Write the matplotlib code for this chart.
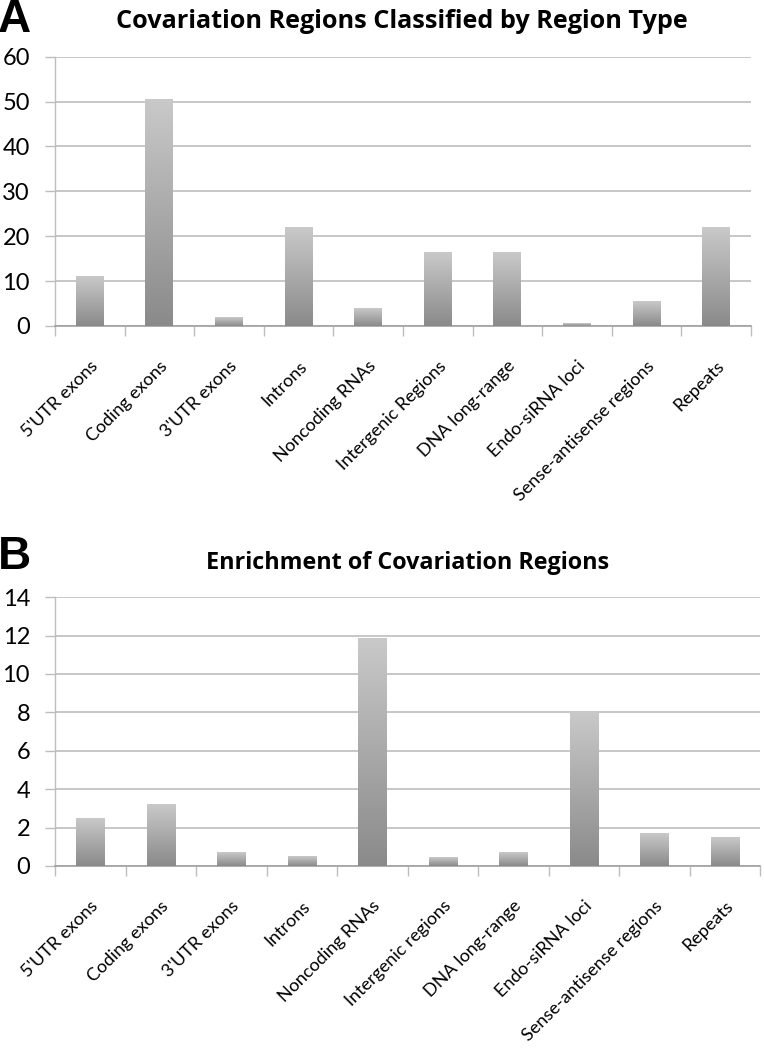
import matplotlib
matplotlib.use("Agg")
import matplotlib.pyplot as plt
import numpy as np
from matplotlib.colors import LinearSegmentedColormap

# ---- data ----
categories_a = ["5'UTR exons", "Coding exons", "3'UTR exons", "Introns", "Noncoding RNAs",
                "Intergenic Regions", "DNA long-range", "Endo-siRNA loci",
                "Sense-antisense regions", "Repeats"]
values_a = [11.1, 50.5, 2.0, 21.9, 4.0, 16.4, 16.4, 0.45, 5.35, 21.9]
yticks_a = [0, 10, 20, 30, 40, 50, 60]
title_a = "Covariation Regions Classified by Region Type"

categories_b = ["5'UTR exons", "Coding exons", "3'UTR exons", "Introns", "Noncoding RNAs",
                "Intergenic regions", "DNA long-range", "Endo-siRNA loci",
                "Sense-antisense regions", "Repeats"]
values_b = [2.5, 3.2, 0.72, 0.47, 11.85, 0.43, 0.69, 8.0, 1.7, 1.51]
yticks_b = [0, 2, 4, 6, 8, 10, 12, 14]
title_b = "Enrichment of Covariation Regions"

plt.rcParams['font.family'] = ['Lato', 'DejaVu Sans']

W, H = 764, 1050
fig = plt.figure(figsize=(W / 100, H / 100), dpi=100)

grad_cmap = LinearSegmentedColormap.from_list("g", ["#8a8a8a", "#c9c9c9"])
grad = np.linspace(0, 1, 256).reshape(-1, 1)
GRID = "#bdbdbd"


def panel(rect, cats, vals, yticks, title, title_size, letter, title_xy, letter_xy):
    ax = fig.add_axes(rect)
    x = np.arange(len(cats))
    bars = ax.bar(x, vals, width=0.4, color="#a8a8a8", linewidth=0, zorder=2)
    for b in bars:
        x0, w, h = b.get_x(), b.get_width(), b.get_height()
        ax.imshow(grad, extent=(x0, x0 + w, 0, h), origin="lower", aspect="auto",
                  cmap=grad_cmap, zorder=3, interpolation="bilinear")
    ax.set_xlim(-0.5, len(cats) - 0.5)
    ax.set_ylim(yticks[0], yticks[-1])
    ax.set_yticks(yticks)
    ax.set_yticklabels([str(t) for t in yticks], fontsize=17)
    ax.yaxis.grid(True, color=GRID, linewidth=1.2, zorder=0)
    ax.set_axisbelow(True)
    ax.set_xticks(np.arange(-0.5, len(cats)), minor=False)
    ax.set_xticklabels([])
    ax.set_xticks(x, minor=True)
    ax.set_xticklabels(cats, minor=True, rotation=45, ha="right",
                       rotation_mode="anchor", fontsize=13)
    ax.tick_params(axis="x", which="minor", length=0, pad=23)
    ax.tick_params(axis="x", which="major", length=7, color=GRID, width=1.0)
    ax.tick_params(axis="y", length=7, color=GRID, width=1.0, pad=11)
    for s in ["top", "right"]:
        ax.spines[s].set_visible(False)
    ax.spines["left"].set_color(GRID)
    ax.spines["bottom"].set_color("#a0a0a0")
    ax.spines["left"].set_linewidth(1.0)
    ax.spines["bottom"].set_linewidth(1.2)
    fig.text(title_xy[0] / W, 1 - title_xy[1] / H, title, ha="center", va="center",
             fontsize=title_size, fontweight="bold", family="Open Sans")
    fig.text(letter_xy[0] / W, 1 - letter_xy[1] / H, letter, ha="left", va="center",
             fontsize=33, fontweight="bold", family="Liberation Sans")
    return ax


panel([55 / W, 1 - 326 / H, 696 / W, 269.3 / H], categories_a, values_a, yticks_a,
      title_a, 18.2, "A", (402, 21), (-2, 20))
panel([55 / W, 1 - 866 / H, 705 / W, 268.8 / H], categories_b, values_b, yticks_b,
      title_b, 16.8, "B", (408, 563), (-2, 557))

fig.savefig("out.png", dpi=100)
